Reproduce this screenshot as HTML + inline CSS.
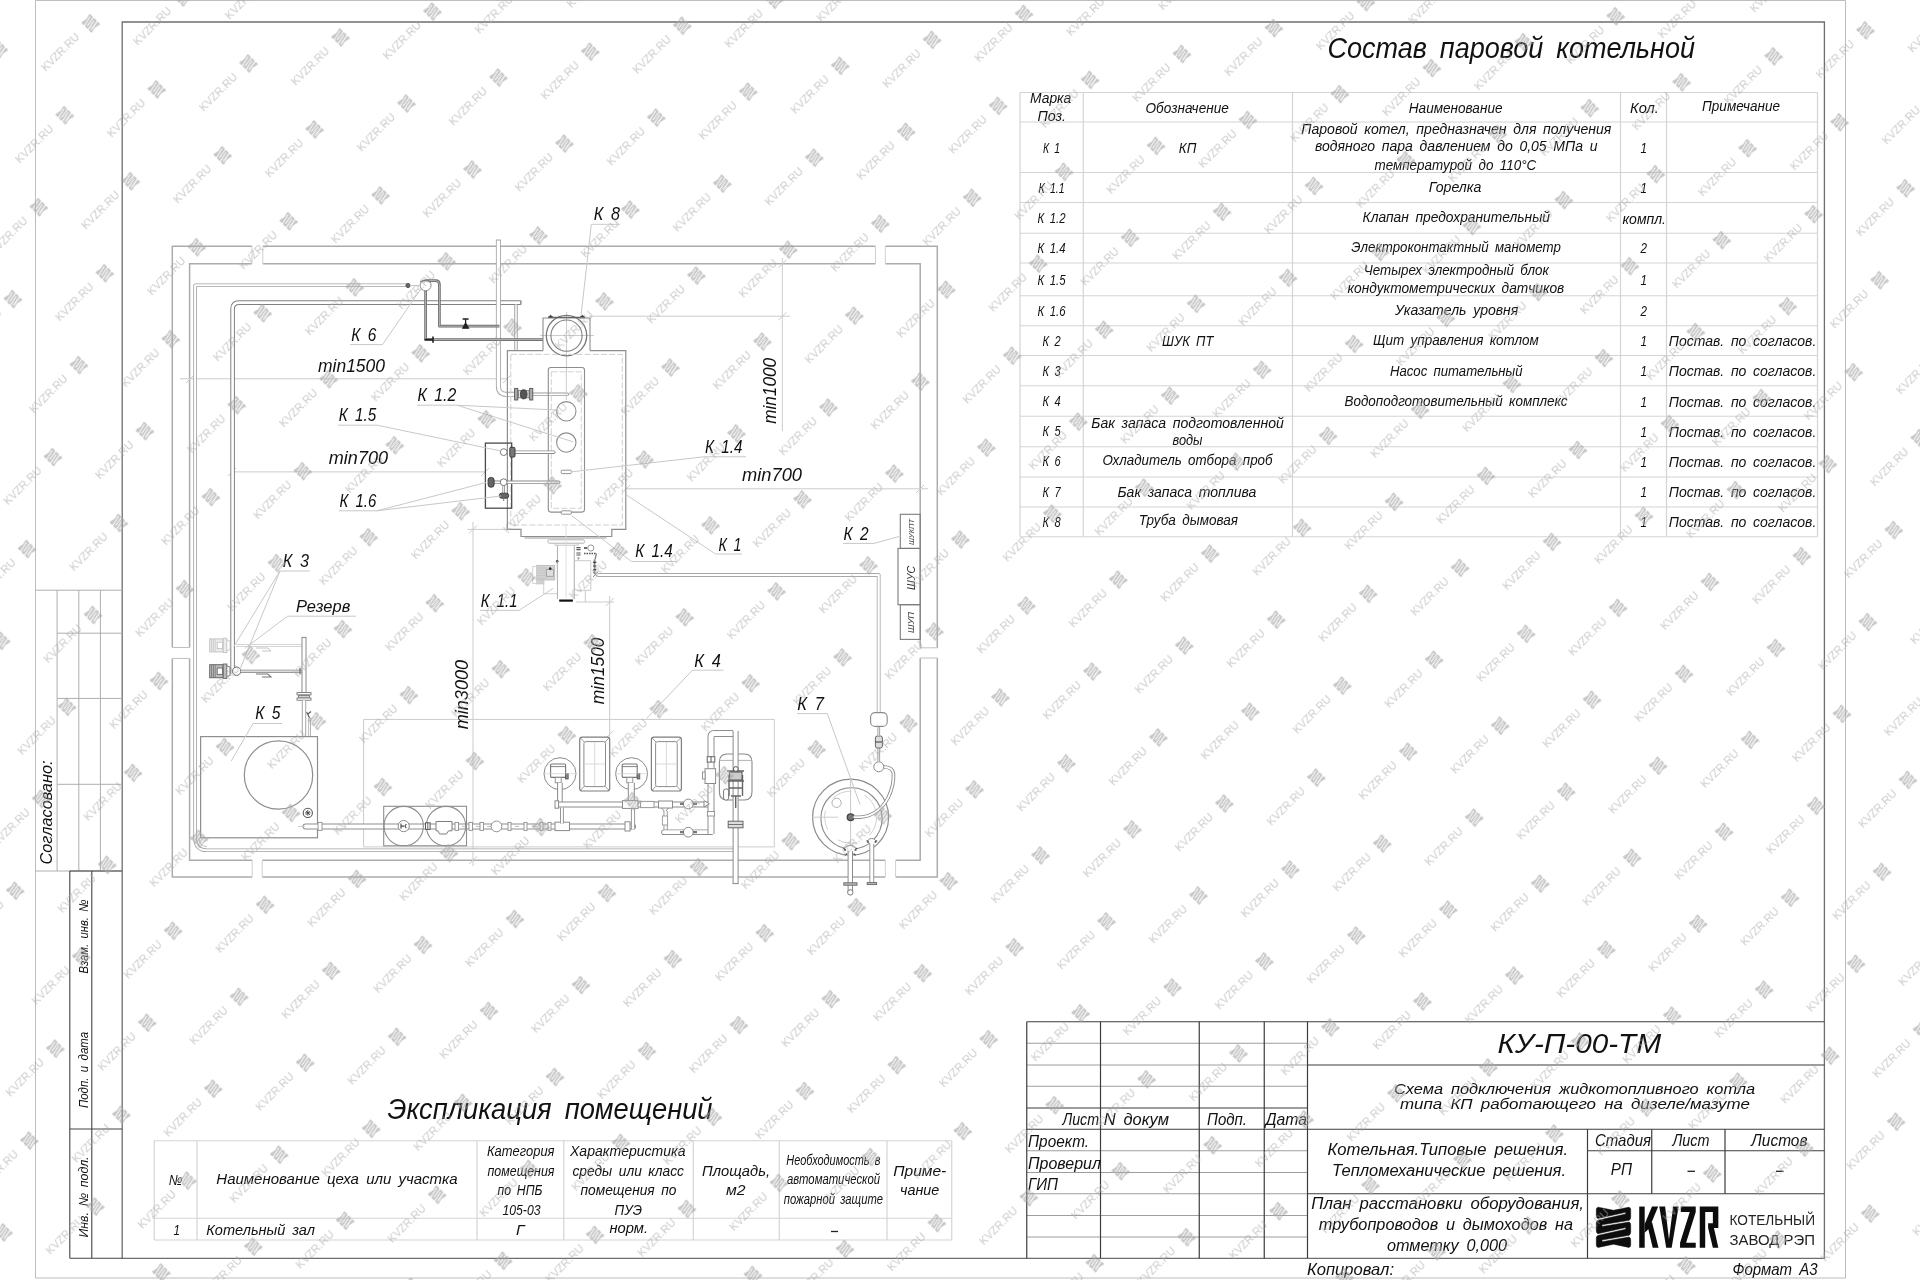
<!DOCTYPE html>
<html lang="ru"><head><meta charset="utf-8"><title>КУ-П-00-ТМ</title>
<style>html,body{margin:0;padding:0;background:#fff}svg{display:block;filter:grayscale(1)}text{font-family:"Liberation Sans", sans-serif;font-style:italic;word-spacing:0.2em}.n{font-style:normal;word-spacing:0}</style></head><body>
<svg width="1920" height="1280" viewBox="0 0 1920 1280">
<defs>
<pattern id="wm" patternUnits="userSpaceOnUse" width="166.667" height="93.333" patternTransform="translate(29.8,55.6) rotate(-45)">
<g transform="translate(-0.20,22.90)"><text class="n" x="0" y="0" font-size="11" fill="#a8a8a8" fill-opacity="0.6" textLength="48.5" lengthAdjust="spacingAndGlyphs">KVZR.RU</text><g transform="translate(59.8,-10.15) scale(0.362)"><path d="M2 0.6 L17.3 3.7 L32.6 0.6 Q34.5 0.8 34.5 3 L34.5 9.95 Q34.4 12.15 33.0 13.15 L5.8 17.60 L5.8 20.50 L33.0 16.05 Q34.4 16.65 34.5 19.05 L34.5 24.85 Q34.4 27.05 33.0 28.05 L5.8 32.85 L5.8 35.75 L33.0 30.95 Q34.4 31.55 34.5 33.95 L34.5 38.5 Q34.5 40.6 32.6 40.8 L17.3 37.6 L2 40.8 Q0.1 40.6 0.1 38.5 L0.1 32.20 Q0.2 30.20 1.6 29.40 L29.5 23.30 L29.5 20.40 L1.6 26.50 Q0.2 25.90 0.1 23.70 L0.1 17.10 Q0.2 15.10 1.6 14.30 L29.5 8.00 L29.5 5.10 L1.6 11.40 Q0.2 10.80 0.1 8.60 L0.1 3 Q0.1 0.8 2 0.6 Z" fill="#a8a8a8" fill-opacity="0.66"/></g></g>
<g transform="translate(166.47,22.90)"><text class="n" x="0" y="0" font-size="11" fill="#a8a8a8" fill-opacity="0.6" textLength="48.5" lengthAdjust="spacingAndGlyphs">KVZR.RU</text><g transform="translate(59.8,-10.15) scale(0.362)"><path d="M2 0.6 L17.3 3.7 L32.6 0.6 Q34.5 0.8 34.5 3 L34.5 9.95 Q34.4 12.15 33.0 13.15 L5.8 17.60 L5.8 20.50 L33.0 16.05 Q34.4 16.65 34.5 19.05 L34.5 24.85 Q34.4 27.05 33.0 28.05 L5.8 32.85 L5.8 35.75 L33.0 30.95 Q34.4 31.55 34.5 33.95 L34.5 38.5 Q34.5 40.6 32.6 40.8 L17.3 37.6 L2 40.8 Q0.1 40.6 0.1 38.5 L0.1 32.20 Q0.2 30.20 1.6 29.40 L29.5 23.30 L29.5 20.40 L1.6 26.50 Q0.2 25.90 0.1 23.70 L0.1 17.10 Q0.2 15.10 1.6 14.30 L29.5 8.00 L29.5 5.10 L1.6 11.40 Q0.2 10.80 0.1 8.60 L0.1 3 Q0.1 0.8 2 0.6 Z" fill="#a8a8a8" fill-opacity="0.66"/></g></g>
<g transform="translate(83.13,69.57)"><text class="n" x="0" y="0" font-size="11" fill="#a8a8a8" fill-opacity="0.6" textLength="48.5" lengthAdjust="spacingAndGlyphs">KVZR.RU</text><g transform="translate(59.8,-10.15) scale(0.362)"><path d="M2 0.6 L17.3 3.7 L32.6 0.6 Q34.5 0.8 34.5 3 L34.5 9.95 Q34.4 12.15 33.0 13.15 L5.8 17.60 L5.8 20.50 L33.0 16.05 Q34.4 16.65 34.5 19.05 L34.5 24.85 Q34.4 27.05 33.0 28.05 L5.8 32.85 L5.8 35.75 L33.0 30.95 Q34.4 31.55 34.5 33.95 L34.5 38.5 Q34.5 40.6 32.6 40.8 L17.3 37.6 L2 40.8 Q0.1 40.6 0.1 38.5 L0.1 32.20 Q0.2 30.20 1.6 29.40 L29.5 23.30 L29.5 20.40 L1.6 26.50 Q0.2 25.90 0.1 23.70 L0.1 17.10 Q0.2 15.10 1.6 14.30 L29.5 8.00 L29.5 5.10 L1.6 11.40 Q0.2 10.80 0.1 8.60 L0.1 3 Q0.1 0.8 2 0.6 Z" fill="#a8a8a8" fill-opacity="0.66"/></g></g>
</pattern>
</defs>
<rect x="0" y="0" width="1920" height="1280" fill="#fff"/>
<g opacity="0.999">
<g id="frames">
<path d="M35.5 0.5 H1845.5 V1278 H35.5 Z" stroke="#bdbdbd" stroke-width="1" fill="none"/>
<path d="M122.2 22 H1824.4 V1258.3 H122.2 Z" stroke="#6e6e6e" stroke-width="1.3" fill="none"/>
<path d="M35.5 590.2 H122.2 M35.5 871 H122.2" stroke="#aeaeae" stroke-width="1" fill="none"/>
<line x1="57.10" y1="590.20" x2="57.10" y2="871.00" stroke="#aeaeae" stroke-width="1"/>
<line x1="78.80" y1="590.20" x2="78.80" y2="871.00" stroke="#aeaeae" stroke-width="1"/>
<line x1="100.40" y1="590.20" x2="100.40" y2="871.00" stroke="#aeaeae" stroke-width="1"/>
<line x1="57.10" y1="633.20" x2="122.20" y2="633.20" stroke="#aeaeae" stroke-width="1"/>
<line x1="57.10" y1="698.40" x2="122.20" y2="698.40" stroke="#aeaeae" stroke-width="1"/>
<line x1="57.10" y1="784.30" x2="122.20" y2="784.30" stroke="#aeaeae" stroke-width="1"/>
<text transform="translate(52.0,864.5) rotate(-90)" font-size="16" fill="#111" textLength="104.0" lengthAdjust="spacingAndGlyphs">Согласовано:</text>
<path d="M69.8 871 V1258.3 M91.8 871 V1258.3 M69.8 871 H122.2 M69.8 1129 H122.2 M69.8 1258.3 H122.2" stroke="#444" stroke-width="1.1" fill="none"/>
<text transform="translate(88.0,973.5) rotate(-90)" font-size="13" fill="#111" textLength="74.0" lengthAdjust="spacingAndGlyphs">Взам. инв. №</text>
<text transform="translate(88.0,1108.0) rotate(-90)" font-size="13" fill="#111" textLength="76.0" lengthAdjust="spacingAndGlyphs">Подп. и дата</text>
<text transform="translate(88.0,1237.5) rotate(-90)" font-size="13" fill="#111" textLength="81.0" lengthAdjust="spacingAndGlyphs">Инв. № подл.</text>
</g>
<g id="tables">
<line x1="1020.00" y1="92.50" x2="1817.50" y2="92.50" stroke="#d4d4d4" stroke-width="1.2"/>
<line x1="1020.00" y1="122.00" x2="1817.50" y2="122.00" stroke="#d4d4d4" stroke-width="1.2"/>
<line x1="1020.00" y1="172.50" x2="1817.50" y2="172.50" stroke="#d4d4d4" stroke-width="1.2"/>
<line x1="1020.00" y1="202.50" x2="1817.50" y2="202.50" stroke="#d4d4d4" stroke-width="1.2"/>
<line x1="1020.00" y1="233.25" x2="1817.50" y2="233.25" stroke="#d4d4d4" stroke-width="1.2"/>
<line x1="1020.00" y1="263.00" x2="1817.50" y2="263.00" stroke="#d4d4d4" stroke-width="1.2"/>
<line x1="1020.00" y1="295.75" x2="1817.50" y2="295.75" stroke="#d4d4d4" stroke-width="1.2"/>
<line x1="1020.00" y1="325.75" x2="1817.50" y2="325.75" stroke="#d4d4d4" stroke-width="1.2"/>
<line x1="1020.00" y1="355.50" x2="1817.50" y2="355.50" stroke="#d4d4d4" stroke-width="1.2"/>
<line x1="1020.00" y1="385.75" x2="1817.50" y2="385.75" stroke="#d4d4d4" stroke-width="1.2"/>
<line x1="1020.00" y1="416.25" x2="1817.50" y2="416.25" stroke="#d4d4d4" stroke-width="1.2"/>
<line x1="1020.00" y1="446.75" x2="1817.50" y2="446.75" stroke="#d4d4d4" stroke-width="1.2"/>
<line x1="1020.00" y1="477.00" x2="1817.50" y2="477.00" stroke="#d4d4d4" stroke-width="1.2"/>
<line x1="1020.00" y1="507.00" x2="1817.50" y2="507.00" stroke="#d4d4d4" stroke-width="1.2"/>
<line x1="1020.00" y1="536.75" x2="1817.50" y2="536.75" stroke="#d4d4d4" stroke-width="1.2"/>
<line x1="1020.00" y1="92.50" x2="1020.00" y2="536.75" stroke="#d4d4d4" stroke-width="1.2"/>
<line x1="1083.25" y1="92.50" x2="1083.25" y2="536.75" stroke="#d4d4d4" stroke-width="1.2"/>
<line x1="1292.50" y1="92.50" x2="1292.50" y2="536.75" stroke="#d4d4d4" stroke-width="1.2"/>
<line x1="1620.50" y1="92.50" x2="1620.50" y2="536.75" stroke="#d4d4d4" stroke-width="1.2"/>
<line x1="1666.50" y1="92.50" x2="1666.50" y2="536.75" stroke="#d4d4d4" stroke-width="1.2"/>
<line x1="1817.50" y1="92.50" x2="1817.50" y2="536.75" stroke="#d4d4d4" stroke-width="1.2"/>
<text x="1327.5" y="57.5" font-size="29" text-anchor="start" fill="#111" textLength="367.5" lengthAdjust="spacingAndGlyphs">Состав паровой котельной</text>
<text x="1030.0" y="103.2" font-size="14.5" text-anchor="start" fill="#111" textLength="41.3" lengthAdjust="spacingAndGlyphs">Марка</text>
<text x="1037.5" y="121.2" font-size="14.5" text-anchor="start" fill="#111" textLength="28.5" lengthAdjust="spacingAndGlyphs">Поз.</text>
<text x="1145.5" y="112.5" font-size="14.5" text-anchor="start" fill="#111" textLength="83.3" lengthAdjust="spacingAndGlyphs">Обозначение</text>
<text x="1408.8" y="112.5" font-size="14.5" text-anchor="start" fill="#111" textLength="93.7" lengthAdjust="spacingAndGlyphs">Наименование</text>
<text x="1630.0" y="112.5" font-size="14.5" text-anchor="start" fill="#111" textLength="28.8" lengthAdjust="spacingAndGlyphs">Кол.</text>
<text x="1702.0" y="110.5" font-size="14.5" text-anchor="start" fill="#111" textLength="78.0" lengthAdjust="spacingAndGlyphs">Примечание</text>
<text x="1043.1" y="152.5" font-size="14.5" text-anchor="start" fill="#111" textLength="17.0" lengthAdjust="spacingAndGlyphs">К 1</text>
<text x="1038.6" y="192.5" font-size="14.5" text-anchor="start" fill="#111" textLength="26.0" lengthAdjust="spacingAndGlyphs">К 1.1</text>
<text x="1037.6" y="223.0" font-size="14.5" text-anchor="start" fill="#111" textLength="28.0" lengthAdjust="spacingAndGlyphs">К 1.2</text>
<text x="1037.6" y="253.3" font-size="14.5" text-anchor="start" fill="#111" textLength="28.0" lengthAdjust="spacingAndGlyphs">К 1.4</text>
<text x="1037.6" y="284.5" font-size="14.5" text-anchor="start" fill="#111" textLength="28.0" lengthAdjust="spacingAndGlyphs">К 1.5</text>
<text x="1037.6" y="315.7" font-size="14.5" text-anchor="start" fill="#111" textLength="28.0" lengthAdjust="spacingAndGlyphs">К 1.6</text>
<text x="1042.6" y="345.8" font-size="14.5" text-anchor="start" fill="#111" textLength="18.0" lengthAdjust="spacingAndGlyphs">К 2</text>
<text x="1042.6" y="376.3" font-size="14.5" text-anchor="start" fill="#111" textLength="18.0" lengthAdjust="spacingAndGlyphs">К 3</text>
<text x="1042.6" y="406.3" font-size="14.5" text-anchor="start" fill="#111" textLength="18.0" lengthAdjust="spacingAndGlyphs">К 4</text>
<text x="1042.6" y="436.3" font-size="14.5" text-anchor="start" fill="#111" textLength="18.0" lengthAdjust="spacingAndGlyphs">К 5</text>
<text x="1042.6" y="466.3" font-size="14.5" text-anchor="start" fill="#111" textLength="18.0" lengthAdjust="spacingAndGlyphs">К 6</text>
<text x="1042.6" y="496.8" font-size="14.5" text-anchor="start" fill="#111" textLength="18.0" lengthAdjust="spacingAndGlyphs">К 7</text>
<text x="1042.6" y="526.8" font-size="14.5" text-anchor="start" fill="#111" textLength="18.0" lengthAdjust="spacingAndGlyphs">К 8</text>
<text x="1178.8" y="152.5" font-size="14.5" text-anchor="start" fill="#111" textLength="17.5" lengthAdjust="spacingAndGlyphs">КП</text>
<text x="1162.0" y="345.8" font-size="14.5" text-anchor="start" fill="#111" textLength="51.3" lengthAdjust="spacingAndGlyphs">ШУК ПТ</text>
<text x="1091.3" y="428.0" font-size="14.5" text-anchor="start" fill="#111" textLength="192.5" lengthAdjust="spacingAndGlyphs">Бак запаса подготовленной</text>
<text x="1172.5" y="445.0" font-size="14.5" text-anchor="start" fill="#111" textLength="30.0" lengthAdjust="spacingAndGlyphs">воды</text>
<text x="1102.5" y="465.0" font-size="14.5" text-anchor="start" fill="#111" textLength="170.0" lengthAdjust="spacingAndGlyphs">Охладитель отбора проб</text>
<text x="1117.5" y="496.8" font-size="14.5" text-anchor="start" fill="#111" textLength="138.8" lengthAdjust="spacingAndGlyphs">Бак запаса топлива</text>
<text x="1138.8" y="525.0" font-size="14.5" text-anchor="start" fill="#111" textLength="99.2" lengthAdjust="spacingAndGlyphs">Труба дымовая</text>
<text x="1301.3" y="133.8" font-size="14.5" text-anchor="start" fill="#111" textLength="310.0" lengthAdjust="spacingAndGlyphs">Паровой котел, предназначен для получения</text>
<text x="1315.0" y="151.3" font-size="14.5" text-anchor="start" fill="#111" textLength="282.5" lengthAdjust="spacingAndGlyphs">водяного пара давлением до 0,05 МПа и</text>
<text x="1374.5" y="169.5" font-size="14.5" text-anchor="start" fill="#111" textLength="161.8" lengthAdjust="spacingAndGlyphs">температурой до 110°С</text>
<text x="1428.8" y="192.0" font-size="14.5" text-anchor="start" fill="#111" textLength="52.5" lengthAdjust="spacingAndGlyphs">Горелка</text>
<text x="1362.5" y="222.0" font-size="14.5" text-anchor="start" fill="#111" textLength="187.5" lengthAdjust="spacingAndGlyphs">Клапан предохранительный</text>
<text x="1351.3" y="252.0" font-size="14.5" text-anchor="start" fill="#111" textLength="209.5" lengthAdjust="spacingAndGlyphs">Электроконтактный манометр</text>
<text x="1363.8" y="274.5" font-size="14.5" text-anchor="start" fill="#111" textLength="185.0" lengthAdjust="spacingAndGlyphs">Четырех электродный блок</text>
<text x="1347.5" y="292.5" font-size="14.5" text-anchor="start" fill="#111" textLength="216.8" lengthAdjust="spacingAndGlyphs">кондуктометрических датчиков</text>
<text x="1395.0" y="315.0" font-size="14.5" text-anchor="start" fill="#111" textLength="123.3" lengthAdjust="spacingAndGlyphs">Указатель уровня</text>
<text x="1373.0" y="345.0" font-size="14.5" text-anchor="start" fill="#111" textLength="165.8" lengthAdjust="spacingAndGlyphs">Щит управления котлом</text>
<text x="1390.0" y="376.3" font-size="14.5" text-anchor="start" fill="#111" textLength="132.5" lengthAdjust="spacingAndGlyphs">Насос питательный</text>
<text x="1344.5" y="406.3" font-size="14.5" text-anchor="start" fill="#111" textLength="223.0" lengthAdjust="spacingAndGlyphs">Водоподготовительный комплекс</text>
<text x="1640.5" y="152.5" font-size="14.5" text-anchor="start" fill="#111" textLength="6.5" lengthAdjust="spacingAndGlyphs">1</text>
<text x="1640.5" y="192.5" font-size="14.5" text-anchor="start" fill="#111" textLength="6.5" lengthAdjust="spacingAndGlyphs">1</text>
<text x="1640.5" y="253.3" font-size="14.5" text-anchor="start" fill="#111" textLength="6.5" lengthAdjust="spacingAndGlyphs">2</text>
<text x="1640.5" y="284.5" font-size="14.5" text-anchor="start" fill="#111" textLength="6.5" lengthAdjust="spacingAndGlyphs">1</text>
<text x="1640.5" y="315.7" font-size="14.5" text-anchor="start" fill="#111" textLength="6.5" lengthAdjust="spacingAndGlyphs">2</text>
<text x="1640.5" y="346.2" font-size="14.5" text-anchor="start" fill="#111" textLength="6.5" lengthAdjust="spacingAndGlyphs">1</text>
<text x="1640.5" y="376.3" font-size="14.5" text-anchor="start" fill="#111" textLength="6.5" lengthAdjust="spacingAndGlyphs">1</text>
<text x="1640.5" y="406.5" font-size="14.5" text-anchor="start" fill="#111" textLength="6.5" lengthAdjust="spacingAndGlyphs">1</text>
<text x="1640.5" y="437.0" font-size="14.5" text-anchor="start" fill="#111" textLength="6.5" lengthAdjust="spacingAndGlyphs">1</text>
<text x="1640.5" y="467.0" font-size="14.5" text-anchor="start" fill="#111" textLength="6.5" lengthAdjust="spacingAndGlyphs">1</text>
<text x="1640.5" y="496.8" font-size="14.5" text-anchor="start" fill="#111" textLength="6.5" lengthAdjust="spacingAndGlyphs">1</text>
<text x="1640.5" y="527.0" font-size="14.5" text-anchor="start" fill="#111" textLength="6.5" lengthAdjust="spacingAndGlyphs">1</text>
<text x="1622.5" y="223.8" font-size="14.5" text-anchor="start" fill="#111" textLength="43.5" lengthAdjust="spacingAndGlyphs">компл.</text>
<text x="1668.8" y="346.2" font-size="14.5" text-anchor="start" fill="#111" textLength="147.5" lengthAdjust="spacingAndGlyphs">Постав. по согласов.</text>
<text x="1668.8" y="376.3" font-size="14.5" text-anchor="start" fill="#111" textLength="147.5" lengthAdjust="spacingAndGlyphs">Постав. по согласов.</text>
<text x="1668.8" y="406.5" font-size="14.5" text-anchor="start" fill="#111" textLength="147.5" lengthAdjust="spacingAndGlyphs">Постав. по согласов.</text>
<text x="1668.8" y="437.0" font-size="14.5" text-anchor="start" fill="#111" textLength="147.5" lengthAdjust="spacingAndGlyphs">Постав. по согласов.</text>
<text x="1668.8" y="467.0" font-size="14.5" text-anchor="start" fill="#111" textLength="147.5" lengthAdjust="spacingAndGlyphs">Постав. по согласов.</text>
<text x="1668.8" y="496.8" font-size="14.5" text-anchor="start" fill="#111" textLength="147.5" lengthAdjust="spacingAndGlyphs">Постав. по согласов.</text>
<text x="1668.8" y="527.0" font-size="14.5" text-anchor="start" fill="#111" textLength="147.5" lengthAdjust="spacingAndGlyphs">Постав. по согласов.</text>
<line x1="154.25" y1="1140.75" x2="951.75" y2="1140.75" stroke="#d4d4d4" stroke-width="1.2"/>
<line x1="154.25" y1="1218.25" x2="951.75" y2="1218.25" stroke="#d4d4d4" stroke-width="1.2"/>
<line x1="154.25" y1="1240.00" x2="951.75" y2="1240.00" stroke="#d4d4d4" stroke-width="1.2"/>
<line x1="154.25" y1="1140.75" x2="154.25" y2="1240.00" stroke="#d4d4d4" stroke-width="1.2"/>
<line x1="197.00" y1="1140.75" x2="197.00" y2="1240.00" stroke="#d4d4d4" stroke-width="1.2"/>
<line x1="477.00" y1="1140.75" x2="477.00" y2="1240.00" stroke="#d4d4d4" stroke-width="1.2"/>
<line x1="563.75" y1="1140.75" x2="563.75" y2="1240.00" stroke="#d4d4d4" stroke-width="1.2"/>
<line x1="693.25" y1="1140.75" x2="693.25" y2="1240.00" stroke="#d4d4d4" stroke-width="1.2"/>
<line x1="779.25" y1="1140.75" x2="779.25" y2="1240.00" stroke="#d4d4d4" stroke-width="1.2"/>
<line x1="887.00" y1="1140.75" x2="887.00" y2="1240.00" stroke="#d4d4d4" stroke-width="1.2"/>
<line x1="951.75" y1="1140.75" x2="951.75" y2="1240.00" stroke="#d4d4d4" stroke-width="1.2"/>
<text x="387.5" y="1118.8" font-size="30" text-anchor="start" fill="#111" textLength="325.0" lengthAdjust="spacingAndGlyphs">Экспликация помещений</text>
<text x="168.8" y="1185.0" font-size="14.5" text-anchor="start" fill="#111" textLength="13.7" lengthAdjust="spacingAndGlyphs">№</text>
<text x="216.3" y="1183.8" font-size="14.5" text-anchor="start" fill="#111" textLength="241.2" lengthAdjust="spacingAndGlyphs">Наименование цеха или участка</text>
<text x="487.0" y="1156.3" font-size="14.5" text-anchor="start" fill="#111" textLength="67.5" lengthAdjust="spacingAndGlyphs">Категория</text>
<text x="487.5" y="1176.3" font-size="14.5" text-anchor="start" fill="#111" textLength="67.0" lengthAdjust="spacingAndGlyphs">помещения</text>
<text x="497.5" y="1195.0" font-size="14.5" text-anchor="start" fill="#111" textLength="45.0" lengthAdjust="spacingAndGlyphs">по НПБ</text>
<text x="502.5" y="1214.5" font-size="14.5" text-anchor="start" fill="#111" textLength="38.0" lengthAdjust="spacingAndGlyphs">105-03</text>
<text x="570.0" y="1156.3" font-size="14.5" text-anchor="start" fill="#111" textLength="115.5" lengthAdjust="spacingAndGlyphs">Характеристика</text>
<text x="572.5" y="1176.3" font-size="14.5" text-anchor="start" fill="#111" textLength="111.5" lengthAdjust="spacingAndGlyphs">среды или класс</text>
<text x="580.5" y="1195.0" font-size="14.5" text-anchor="start" fill="#111" textLength="96.0" lengthAdjust="spacingAndGlyphs">помещения по</text>
<text x="614.5" y="1214.5" font-size="14.5" text-anchor="start" fill="#111" textLength="27.5" lengthAdjust="spacingAndGlyphs">ПУЭ</text>
<text x="702.0" y="1176.3" font-size="14.5" text-anchor="start" fill="#111" textLength="68.0" lengthAdjust="spacingAndGlyphs">Площадь,</text>
<text x="726.0" y="1195.0" font-size="14.5" text-anchor="start" fill="#111" textLength="19.5" lengthAdjust="spacingAndGlyphs">м2</text>
<text x="786.3" y="1164.5" font-size="14.5" text-anchor="start" fill="#111" textLength="94.2" lengthAdjust="spacingAndGlyphs">Необходимость в</text>
<text x="787.0" y="1183.8" font-size="14.5" text-anchor="start" fill="#111" textLength="93.0" lengthAdjust="spacingAndGlyphs">автоматической</text>
<text x="783.8" y="1203.8" font-size="14.5" text-anchor="start" fill="#111" textLength="99.2" lengthAdjust="spacingAndGlyphs">пожарной защите</text>
<text x="893.3" y="1176.3" font-size="14.5" text-anchor="start" fill="#111" textLength="53.0" lengthAdjust="spacingAndGlyphs">Приме-</text>
<text x="900.0" y="1195.0" font-size="14.5" text-anchor="start" fill="#111" textLength="39.3" lengthAdjust="spacingAndGlyphs">чание</text>
<text x="173.5" y="1235.0" font-size="14.5" text-anchor="start" fill="#111" textLength="6.5" lengthAdjust="spacingAndGlyphs">1</text>
<text x="206.3" y="1235.0" font-size="14.5" text-anchor="start" fill="#111" textLength="108.7" lengthAdjust="spacingAndGlyphs">Котельный зал</text>
<text x="516.0" y="1235.0" font-size="14.5" text-anchor="start" fill="#111" textLength="8.5" lengthAdjust="spacingAndGlyphs">Г</text>
<text x="609.5" y="1233.0" font-size="14.5" text-anchor="start" fill="#111" textLength="38.5" lengthAdjust="spacingAndGlyphs">норм.</text>
<line x1="831.00" y1="1231.50" x2="838.00" y2="1231.50" stroke="#222" stroke-width="1.3"/>
<line x1="1026.75" y1="1043.25" x2="1307.50" y2="1043.25" stroke="#9e9e9e" stroke-width="1"/>
<line x1="1026.75" y1="1065.00" x2="1307.50" y2="1065.00" stroke="#9e9e9e" stroke-width="1"/>
<line x1="1026.75" y1="1086.25" x2="1307.50" y2="1086.25" stroke="#9e9e9e" stroke-width="1"/>
<line x1="1026.75" y1="1108.00" x2="1307.50" y2="1108.00" stroke="#3c3c3c" stroke-width="1.2"/>
<line x1="1026.75" y1="1129.25" x2="1307.50" y2="1129.25" stroke="#3c3c3c" stroke-width="1.2"/>
<line x1="1026.75" y1="1150.75" x2="1307.50" y2="1150.75" stroke="#9e9e9e" stroke-width="1"/>
<line x1="1026.75" y1="1172.50" x2="1307.50" y2="1172.50" stroke="#9e9e9e" stroke-width="1"/>
<line x1="1026.75" y1="1193.75" x2="1307.50" y2="1193.75" stroke="#9e9e9e" stroke-width="1"/>
<line x1="1026.75" y1="1215.50" x2="1307.50" y2="1215.50" stroke="#9e9e9e" stroke-width="1"/>
<line x1="1026.75" y1="1237.00" x2="1307.50" y2="1237.00" stroke="#9e9e9e" stroke-width="1"/>
<line x1="1026.75" y1="1021.75" x2="1026.75" y2="1258.30" stroke="#3c3c3c" stroke-width="1.2"/>
<line x1="1100.50" y1="1021.75" x2="1100.50" y2="1258.30" stroke="#3c3c3c" stroke-width="1.2"/>
<line x1="1199.25" y1="1021.75" x2="1199.25" y2="1258.30" stroke="#3c3c3c" stroke-width="1.2"/>
<line x1="1264.25" y1="1021.75" x2="1264.25" y2="1258.30" stroke="#3c3c3c" stroke-width="1.2"/>
<line x1="1307.50" y1="1021.75" x2="1307.50" y2="1258.30" stroke="#3c3c3c" stroke-width="1.2"/>
<line x1="1026.75" y1="1021.75" x2="1824.40" y2="1021.75" stroke="#3c3c3c" stroke-width="1.2"/>
<line x1="1307.50" y1="1065.00" x2="1824.40" y2="1065.00" stroke="#3c3c3c" stroke-width="1.2"/>
<line x1="1307.50" y1="1129.25" x2="1824.40" y2="1129.25" stroke="#3c3c3c" stroke-width="1.2"/>
<line x1="1307.50" y1="1193.75" x2="1824.40" y2="1193.75" stroke="#3c3c3c" stroke-width="1.2"/>
<line x1="1587.50" y1="1150.75" x2="1824.40" y2="1150.75" stroke="#3c3c3c" stroke-width="1.2"/>
<line x1="1587.50" y1="1129.25" x2="1587.50" y2="1258.30" stroke="#3c3c3c" stroke-width="1.2"/>
<line x1="1651.75" y1="1129.25" x2="1651.75" y2="1193.75" stroke="#3c3c3c" stroke-width="1.2"/>
<line x1="1725.00" y1="1129.25" x2="1725.00" y2="1193.75" stroke="#3c3c3c" stroke-width="1.2"/>
<text x="1062.5" y="1125.0" font-size="17" text-anchor="start" fill="#111" textLength="36.5" lengthAdjust="spacingAndGlyphs">Лист</text>
<text x="1103.8" y="1125.0" font-size="17" text-anchor="start" fill="#111" textLength="65.2" lengthAdjust="spacingAndGlyphs">N докум</text>
<text x="1207.0" y="1125.0" font-size="17" text-anchor="start" fill="#111" textLength="40.0" lengthAdjust="spacingAndGlyphs">Подп.</text>
<text x="1265.5" y="1125.0" font-size="17" text-anchor="start" fill="#111" textLength="41.5" lengthAdjust="spacingAndGlyphs">Дата</text>
<text x="1028.0" y="1147.0" font-size="17" text-anchor="start" fill="#111" textLength="61.0" lengthAdjust="spacingAndGlyphs">Проект.</text>
<text x="1028.0" y="1168.8" font-size="17" text-anchor="start" fill="#111" textLength="73.0" lengthAdjust="spacingAndGlyphs">Проверил</text>
<text x="1028.0" y="1189.5" font-size="17" text-anchor="start" fill="#111" textLength="30.0" lengthAdjust="spacingAndGlyphs">ГИП</text>
<text x="1307.0" y="1275.0" font-size="17" text-anchor="start" fill="#111" textLength="87.0" lengthAdjust="spacingAndGlyphs">Копировал:</text>
<text x="1732.5" y="1275.0" font-size="17" text-anchor="start" fill="#111" textLength="85.0" lengthAdjust="spacingAndGlyphs">Формат А3</text>
<text x="1497.5" y="1053.3" font-size="28.5" text-anchor="start" fill="#111" textLength="163.8" lengthAdjust="spacingAndGlyphs">КУ-П-00-ТМ</text>
<text x="1394.0" y="1093.8" font-size="15.5" text-anchor="start" fill="#111" textLength="361.0" lengthAdjust="spacingAndGlyphs">Схема подключения жидкотопливного котла</text>
<text x="1400.0" y="1108.8" font-size="15.5" text-anchor="start" fill="#111" textLength="350.0" lengthAdjust="spacingAndGlyphs">типа КП работающего на дизеле/мазуте</text>
<text x="1327.5" y="1154.5" font-size="16" text-anchor="start" fill="#111" textLength="240.5" lengthAdjust="spacingAndGlyphs">Котельная.Типовые решения.</text>
<text x="1332.0" y="1176.3" font-size="16" text-anchor="start" fill="#111" textLength="234.0" lengthAdjust="spacingAndGlyphs">Тепломеханические решения.</text>
<text x="1311.3" y="1208.8" font-size="16" text-anchor="start" fill="#111" textLength="272.7" lengthAdjust="spacingAndGlyphs">План расстановки оборудования,</text>
<text x="1318.8" y="1230.0" font-size="16" text-anchor="start" fill="#111" textLength="254.2" lengthAdjust="spacingAndGlyphs">трубопроводов и дымоходов на</text>
<text x="1387.0" y="1250.8" font-size="16" text-anchor="start" fill="#111" textLength="120.0" lengthAdjust="spacingAndGlyphs">отметку 0,000</text>
<text x="1595.0" y="1145.8" font-size="17" text-anchor="start" fill="#111" textLength="56.0" lengthAdjust="spacingAndGlyphs">Стадия</text>
<text x="1672.5" y="1145.8" font-size="17" text-anchor="start" fill="#111" textLength="37.0" lengthAdjust="spacingAndGlyphs">Лист</text>
<text x="1751.3" y="1145.8" font-size="17" text-anchor="start" fill="#111" textLength="56.2" lengthAdjust="spacingAndGlyphs">Листов</text>
<text x="1610.8" y="1175.0" font-size="17" text-anchor="start" fill="#111" textLength="21.2" lengthAdjust="spacingAndGlyphs">РП</text>
<line x1="1687.50" y1="1171.30" x2="1695.00" y2="1171.30" stroke="#222" stroke-width="1.3"/>
<line x1="1776.00" y1="1171.30" x2="1783.50" y2="1171.30" stroke="#222" stroke-width="1.3"/>
<g transform="translate(1596.2,1206.6)"><path d="M2 0.6 L17.3 3.7 L32.6 0.6 Q34.5 0.8 34.5 3 L34.5 10.55 Q34.4 12.75 33.0 13.75 L5.8 18.20 L5.8 19.90 L33.0 15.45 Q34.4 16.05 34.5 18.45 L34.5 25.45 Q34.4 27.65 33.0 28.65 L5.8 33.45 L5.8 35.15 L33.0 30.35 Q34.4 30.95 34.5 33.35 L34.5 38.5 Q34.5 40.6 32.6 40.8 L17.3 37.6 L2 40.8 Q0.1 40.6 0.1 38.5 L0.1 31.60 Q0.2 29.60 1.6 28.80 L29.5 22.70 L29.5 21.00 L1.6 27.10 Q0.2 26.50 0.1 24.30 L0.1 16.50 Q0.2 14.50 1.6 13.70 L29.5 7.40 L29.5 5.70 L1.6 12.00 Q0.2 11.40 0.1 9.20 L0.1 3 Q0.1 0.8 2 0.6 Z" fill="#0d0d0d" stroke="#0d0d0d" stroke-width="0.5" stroke-linejoin="round"/></g>
<path d="M1639.22 1206.56 L1644.69 1206.56 L1644.69 1247.76 L1639.22 1247.76 Z" fill="#0d0d0d"/>
<path d="M1644.69 1224.06 L1651.98 1206.56 L1658.18 1206.56 L1649.06 1228.44 L1644.69 1232.81 Z" fill="#0d0d0d"/>
<path d="M1647.61 1226.25 L1651.98 1221.88 L1658.54 1247.76 L1652.71 1247.76 Z" fill="#0d0d0d"/>
<path d="M1659.27 1206.56 L1665.11 1206.56 L1668.97 1239.38 L1673.13 1206.56 L1678.60 1206.56 L1671.67 1247.76 L1666.20 1247.76 Z" fill="#0d0d0d"/>
<path d="M1680.78 1206.56 L1695.73 1206.56 L1695.73 1212.03 L1686.11 1242.66 L1695.73 1242.66 L1695.73 1247.76 L1680.05 1247.76 L1680.05 1242.66 L1689.75 1212.03 L1680.78 1212.03 Z" fill="#0d0d0d"/>
<path d="M1699.74 1206.56 L1718.34 1206.56 L1718.34 1228.07 L1713.96 1228.07 L1718.34 1247.76 L1712.87 1247.76 L1708.13 1228.07 L1708.13 1223.33 L1712.87 1223.33 L1712.87 1212.03 L1705.21 1212.03 L1705.21 1247.76 L1699.74 1247.76 Z" fill="#0d0d0d"/>
<text class="n" x="1729.5" y="1225" font-size="15" fill="#222" textLength="85.5" lengthAdjust="spacingAndGlyphs">КОТЕЛЬНЫЙ</text>
<text class="n" x="1729.5" y="1245" font-size="15" fill="#222" textLength="85.5" lengthAdjust="spacingAndGlyphs">ЗАВОД РЭП</text>
</g>
<g id="plan">
<path d="M252 246.3 H172.3 V647.5 M172.3 658.4 V877.0 H252.2 M262.2 877.0 H885.3 M895.6 877.0 H937.3 V658 M937.3 647.8 V246.3 H885.3 M875.5 246.3 H262.8" stroke="#acacac" stroke-width="1.5" fill="none"/>
<path d="M252 263.8 H189.6 V647.5 M189.6 658.4 V860.2 H252.2 M262.2 860.2 H885.3 M895.6 860.2 H920.2 V658 M920.2 647.8 V263.8 H885.3 M875.5 263.8 H262.8" stroke="#acacac" stroke-width="1.5" fill="none"/>
<line x1="252.00" y1="246.30" x2="252.00" y2="263.80" stroke="#d0d0d0" stroke-width="1"/>
<line x1="262.80" y1="246.30" x2="262.80" y2="263.80" stroke="#d0d0d0" stroke-width="1"/>
<line x1="875.50" y1="246.30" x2="875.50" y2="263.80" stroke="#d0d0d0" stroke-width="1"/>
<line x1="885.30" y1="246.30" x2="885.30" y2="263.80" stroke="#d0d0d0" stroke-width="1"/>
<line x1="252.20" y1="860.20" x2="252.20" y2="877.00" stroke="#d0d0d0" stroke-width="1"/>
<line x1="262.20" y1="860.20" x2="262.20" y2="877.00" stroke="#d0d0d0" stroke-width="1"/>
<line x1="885.30" y1="860.20" x2="885.30" y2="877.00" stroke="#d0d0d0" stroke-width="1"/>
<line x1="895.60" y1="860.20" x2="895.60" y2="877.00" stroke="#d0d0d0" stroke-width="1"/>
<line x1="172.30" y1="647.50" x2="189.60" y2="647.50" stroke="#c0c0c0" stroke-width="1"/>
<line x1="172.30" y1="658.40" x2="189.60" y2="658.40" stroke="#c0c0c0" stroke-width="1"/>
<line x1="920.20" y1="647.80" x2="937.30" y2="647.80" stroke="#c0c0c0" stroke-width="1"/>
<line x1="920.20" y1="658.00" x2="937.30" y2="658.00" stroke="#c0c0c0" stroke-width="1"/>
<line x1="180.00" y1="378.80" x2="507.00" y2="378.80" stroke="#cbcbcb" stroke-width="1"/>
<line x1="186.00" y1="383.00" x2="194.00" y2="375.00" stroke="#cbcbcb" stroke-width="1"/>
<line x1="503.00" y1="383.00" x2="511.00" y2="375.00" stroke="#cbcbcb" stroke-width="1"/>
<line x1="232.00" y1="471.90" x2="485.00" y2="471.90" stroke="#cbcbcb" stroke-width="1"/>
<line x1="228.00" y1="476.00" x2="236.00" y2="468.00" stroke="#cbcbcb" stroke-width="1"/>
<line x1="481.00" y1="476.00" x2="489.00" y2="468.00" stroke="#cbcbcb" stroke-width="1"/>
<line x1="589.00" y1="316.20" x2="790.00" y2="316.20" stroke="#cbcbcb" stroke-width="1"/>
<line x1="782.30" y1="258.00" x2="782.30" y2="431.00" stroke="#cbcbcb" stroke-width="1"/>
<line x1="778.50" y1="320.20" x2="786.50" y2="312.20" stroke="#cbcbcb" stroke-width="1"/>
<line x1="778.50" y1="267.80" x2="786.50" y2="259.80" stroke="#cbcbcb" stroke-width="1"/>
<line x1="626.00" y1="488.80" x2="928.00" y2="488.80" stroke="#cbcbcb" stroke-width="1"/>
<line x1="916.00" y1="493.00" x2="924.00" y2="485.00" stroke="#cbcbcb" stroke-width="1"/>
<line x1="622.00" y1="493.00" x2="630.00" y2="485.00" stroke="#cbcbcb" stroke-width="1"/>
<line x1="467.50" y1="529.40" x2="507.00" y2="529.40" stroke="#cbcbcb" stroke-width="1"/>
<line x1="473.00" y1="522.00" x2="473.00" y2="866.00" stroke="#cbcbcb" stroke-width="1"/>
<line x1="469.00" y1="533.40" x2="477.00" y2="525.40" stroke="#cbcbcb" stroke-width="1"/>
<line x1="469.00" y1="864.20" x2="477.00" y2="856.20" stroke="#cbcbcb" stroke-width="1"/>
<line x1="576.00" y1="602.00" x2="614.00" y2="602.00" stroke="#cbcbcb" stroke-width="1"/>
<line x1="609.70" y1="596.00" x2="609.70" y2="737.00" stroke="#cbcbcb" stroke-width="1"/>
<line x1="605.70" y1="606.00" x2="613.70" y2="598.00" stroke="#cbcbcb" stroke-width="1"/>
<line x1="605.70" y1="738.40" x2="613.70" y2="730.40" stroke="#cbcbcb" stroke-width="1"/>
<path d="M363.6 719.4 H774.3 V846.9 H363.6 Z" stroke="#cbcbcb" stroke-width="1" fill="none"/>
<line x1="566.50" y1="312.00" x2="566.50" y2="372.00" stroke="#cbcbcb" stroke-width="1"/>
<line x1="540.00" y1="335.50" x2="594.00" y2="335.50" stroke="#cbcbcb" stroke-width="1"/>
<path d="M407 285.3 H195.1 V838 Q195.1 850.3 207 850.3 H735.7" stroke="#a0a0a0" stroke-width="3.6" fill="none" stroke-linejoin="round" stroke-linecap="butt"/>
<path d="M407 285.3 H195.1 V838 Q195.1 850.3 207 850.3 H735.7" stroke="#fff" stroke-width="2.00" fill="none" stroke-linejoin="round" stroke-linecap="butt"/>
<path d="M199 838 Q199 846.5 207 846.5" stroke="#b0b0b0" stroke-width="0.8" fill="none"/>
<path d="M232.6 674 V309 Q232.6 302.6 239 302.6 H520.6" stroke="#808080" stroke-width="4.6" fill="none" stroke-linejoin="round" stroke-linecap="butt"/>
<path d="M232.6 674 V309 Q232.6 302.6 239 302.6 H520.6" stroke="#fff" stroke-width="2.60" fill="none" stroke-linejoin="round" stroke-linecap="butt"/>
<line x1="520.90" y1="300.40" x2="520.90" y2="304.80" stroke="#7a7a7a" stroke-width="1.2"/>
<path d="M516 304.6 V350.6" stroke="#9a9a9a" stroke-width="3.4" fill="none" stroke-linejoin="round" stroke-linecap="butt"/>
<path d="M516 304.6 V350.6" stroke="#fff" stroke-width="1.60" fill="none" stroke-linejoin="round" stroke-linecap="butt"/>
<path d="M498.4 240 V386 Q498.4 394.3 506 394.3 H515" stroke="#a4a4a4" stroke-width="5.0" fill="none" stroke-linejoin="round" stroke-linecap="butt"/>
<path d="M498.4 240 V386 Q498.4 394.3 506 394.3 H515" stroke="#fff" stroke-width="3.30" fill="none" stroke-linejoin="round" stroke-linecap="butt"/>
<line x1="495.90" y1="240.00" x2="500.90" y2="240.00" stroke="#a4a4a4" stroke-width="1"/>
<path d="M532 394.3 H567.5" stroke="#9a9a9a" stroke-width="3.6" fill="none" stroke-linejoin="round" stroke-linecap="round"/>
<path d="M532 394.3 H567.5" stroke="#fff" stroke-width="1.80" fill="none" stroke-linejoin="round" stroke-linecap="round"/>
<rect x="514.60" y="388.40" width="3.20" height="11.60" rx="0" stroke="#555" stroke-width="0.9" fill="#aaa"/>
<rect x="529.60" y="388.40" width="3.20" height="11.60" rx="0" stroke="#555" stroke-width="0.9" fill="#aaa"/>
<rect x="518.40" y="390.60" width="10.60" height="7.20" rx="0" stroke="#777" stroke-width="0.9" fill="#eee"/>
<ellipse cx="523.7" cy="394.3" rx="3.4" ry="4.6" fill="#555" stroke="#333" stroke-width="0.8"/>
<path d="M425.6 280.6 H435.4 Q439.4 280.6 439.4 284.6 V326.2 H499.4" stroke="#6c6c6c" stroke-width="2.7" fill="none" stroke-linejoin="round"/>
<path d="M425.6 280.6 H435.4 Q439.4 280.6 439.4 284.6 V326.2 H499.4" stroke="#c8c8c8" stroke-width="0.8" fill="none" stroke-linejoin="round"/>
<path d="M425.6 290.6 V339.6 H543" stroke="#6c6c6c" stroke-width="2.7" fill="none" stroke-linejoin="round"/>
<path d="M425.6 290.6 V339.6 H543" stroke="#c8c8c8" stroke-width="0.8" fill="none" stroke-linejoin="round"/>
<circle cx="425.60" cy="285.30" r="5.50" stroke="#8a8a8a" stroke-width="1" fill="#fff"/>
<path d="M420.5 282 Q425.6 279 430.7 282" stroke="#777" stroke-width="1.6" fill="none"/>
<circle cx="408.00" cy="285.50" r="2.10" stroke="#555" stroke-width="1" fill="#666"/>
<line x1="410.00" y1="285.50" x2="420.00" y2="285.50" stroke="#cbcbcb" stroke-width="1"/>
<path d="M462.6 319 H468.6 M465.6 319 V323 M462.8 328.2 L465.6 323 L468.4 328.2 Z" stroke="#222" stroke-width="1.3" fill="#222"/>
<path d="M424.5 339.6 H433 M433 336.4 V342.8" stroke="#222" stroke-width="1.6" fill="none"/>
<path d="M543 350.6 V318 H590 V350.6" stroke="#8e8e8e" stroke-width="1.1" fill="none"/>
<circle cx="566.50" cy="335.60" r="20.20" stroke="#777" stroke-width="1.3" fill="none"/>
<circle cx="566.50" cy="335.60" r="15.60" stroke="#7e7e7e" stroke-width="1.1" fill="none"/>
<path d="M548 317.6 L550.5 315.4 L553.5 317.6 Z M579.5 317.6 L582.5 315.4 L585 317.6 Z" stroke="#222" stroke-width="0.8" fill="#222"/>
<line x1="548.00" y1="317.30" x2="585.00" y2="317.30" stroke="#666" stroke-width="1.2"/>
<path d="M543 350.6 H507.4 V529.4 H521 V536.5 H611.8 V529.4 H625.8 V350.6 H590" stroke="#8e8e8e" stroke-width="1.2" fill="none"/>
<path d="M510.8 354.4 H622.3 V525 H510.8 Z" stroke="#cfcfcf" stroke-width="1" fill="none" stroke-dasharray="6 2.2"/>
<rect x="548.30" y="367.50" width="36.20" height="144.60" rx="2.5" stroke="#8e8e8e" stroke-width="1.1" fill="none"/>
<rect x="551.3" y="371.8" width="30" height="136.5" stroke="#d2d2d2" stroke-width="1" fill="none" stroke-dasharray="6 2.2"/>
<circle cx="566.30" cy="411.30" r="9.70" stroke="#8e8e8e" stroke-width="1.1" fill="none"/>
<circle cx="566.30" cy="442.60" r="9.70" stroke="#8e8e8e" stroke-width="1.1" fill="none"/>
<rect x="561.20" y="470.20" width="10.20" height="3.40" rx="1" stroke="#888" stroke-width="0.9" fill="none"/>
<rect x="561.20" y="510.80" width="10.20" height="3.40" rx="1" stroke="#888" stroke-width="0.9" fill="#fff"/>
<line x1="566.30" y1="371.00" x2="566.30" y2="400.00" stroke="#cbcbcb" stroke-width="1"/>
<rect x="485.40" y="443.10" width="26.30" height="65.10" rx="0" stroke="#4a4a4a" stroke-width="1.3" fill="none"/>
<path d="M512.5 452.2 H553.7" stroke="#8a8a8a" stroke-width="3.6" fill="none" stroke-linejoin="round" stroke-linecap="round"/>
<path d="M512.5 452.2 H553.7" stroke="#fff" stroke-width="1.80" fill="none" stroke-linejoin="round" stroke-linecap="round"/>
<path d="M493.6 482.3 H558.6" stroke="#8a8a8a" stroke-width="3.6" fill="none" stroke-linejoin="round" stroke-linecap="round"/>
<path d="M493.6 482.3 H558.6" stroke="#fff" stroke-width="1.80" fill="none" stroke-linejoin="round" stroke-linecap="round"/>
<path d="M503.7 485.6 V493" stroke="#8a8a8a" stroke-width="2.6" fill="none" stroke-linejoin="round" stroke-linecap="butt"/>
<path d="M503.7 485.6 V493" stroke="#fff" stroke-width="1.00" fill="none" stroke-linejoin="round" stroke-linecap="butt"/>
<circle cx="503.70" cy="452.10" r="3.40" stroke="#777" stroke-width="1" fill="#fff"/>
<circle cx="503.70" cy="482.20" r="3.40" stroke="#777" stroke-width="1" fill="#fff"/>
<rect x="509.80" y="447.30" width="5.20" height="9.80" rx="1.2" stroke="#333" stroke-width="0.9" fill="#777"/>
<rect x="488.10" y="477.40" width="6.00" height="9.80" rx="2.6" stroke="#333" stroke-width="0.9" fill="#666"/>
<rect x="499.30" y="493.20" width="9.40" height="5.00" rx="2.4" stroke="#333" stroke-width="0.9" fill="#666"/>
<line x1="503.70" y1="497.60" x2="503.70" y2="501.00" stroke="#777" stroke-width="1"/>
<line x1="524.50" y1="538.00" x2="606.50" y2="538.00" stroke="#9a9a9a" stroke-width="1"/>
<rect x="547.80" y="539.80" width="36.80" height="3.40" rx="1.6" stroke="#b0b0b0" stroke-width="1" fill="none"/>
<path d="M555 543.4 V545.2 H578.4 V543.4" stroke="#c0c0c0" stroke-width="0.9" fill="none"/>
<path d="M557.5 545.2 V598.9 M574.3 545.2 V598.9" stroke="#b4b4b4" stroke-width="1.1" fill="none"/>
<line x1="566.00" y1="526.00" x2="566.00" y2="598.00" stroke="#d8d8d8" stroke-width="0.8"/>
<line x1="559.20" y1="600.60" x2="572.90" y2="600.60" stroke="#111" stroke-width="2.2"/>
<rect x="536.50" y="565.50" width="18.20" height="14.50" rx="0" stroke="#b8b8b8" stroke-width="0.8" fill="#d2d2d2"/>
<rect x="536.50" y="580.00" width="7.50" height="4.00" rx="0" stroke="#c0c0c0" stroke-width="0.6" fill="#d2d2d2"/>
<line x1="537.00" y1="568.00" x2="546.00" y2="568.00" stroke="#bdbdbd" stroke-width="0.6"/>
<line x1="537.00" y1="570.50" x2="546.00" y2="570.50" stroke="#bdbdbd" stroke-width="0.6"/>
<line x1="537.00" y1="573.00" x2="546.00" y2="573.00" stroke="#bdbdbd" stroke-width="0.6"/>
<line x1="537.00" y1="575.50" x2="546.00" y2="575.50" stroke="#bdbdbd" stroke-width="0.6"/>
<line x1="537.00" y1="578.00" x2="546.00" y2="578.00" stroke="#bdbdbd" stroke-width="0.6"/>
<rect x="532.70" y="566.50" width="3.80" height="17.00" rx="0" stroke="#d0d0d0" stroke-width="0.9" fill="none"/>
<rect x="546.50" y="569.50" width="7.00" height="6.80" rx="0" stroke="#9a9a9a" stroke-width="0.8" fill="#dedede"/>
<circle cx="550.20" cy="568.70" r="1.10" stroke="#222" stroke-width="0.5" fill="#222"/>
<path d="M543.7 584 V593.7 H557" stroke="#d0d0d0" stroke-width="1" fill="none"/>
<circle cx="557.20" cy="561.40" r="1.10" stroke="#333" stroke-width="0.5" fill="#333"/>
<line x1="557.20" y1="561.00" x2="557.20" y2="580.00" stroke="#c4c4c4" stroke-width="0.8"/>
<path d="M574.6 560.7 H590.8 V590.3 H577 M585.3 590.3 V602" stroke="#cacaca" stroke-width="1" fill="none"/>
<path d="M576.4 547.6 H580.6 M576.4 549.6 H580.6 M576.4 553 H580.6 M576.4 555 H580.6" stroke="#555" stroke-width="1.1" fill="none"/>
<path d="M578.4 557 V560 M577 558 H580" stroke="#999" stroke-width="0.8" fill="none"/>
<circle cx="590.80" cy="548.00" r="3.10" stroke="#8a8a8a" stroke-width="0.9" fill="#fff"/>
<path d="M584 548 H587" stroke="#444" stroke-width="1.6" fill="none"/>
<path d="M584 553.5 H596.5" stroke="#555" stroke-width="1.6" stroke-dasharray="1.6 0.9" fill="none"/>
<path d="M596.5 553.5 L595 559.4" stroke="#777" stroke-width="1.2" fill="none"/>
<path d="M594.6 559.4 V574" stroke="#888" stroke-width="1.8" fill="none"/>
<path d="M593 562.4 H596.4 M593 566 H596.4 M593 569.6 H596.4" stroke="#444" stroke-width="1.1" fill="none"/>
<path d="M593 572 L597.6 577 M597.6 572 L593 577" stroke="#888" stroke-width="1" fill="none"/>
<path d="M597.7 575 H878.7 V712.6" stroke="#a8a8a8" stroke-width="3.8" fill="none" stroke-linejoin="round" stroke-linecap="butt"/>
<path d="M597.7 575 H878.7 V712.6" stroke="#fff" stroke-width="2.20" fill="none" stroke-linejoin="round" stroke-linecap="butt"/>
<rect x="900.30" y="514.30" width="19.90" height="34.10" rx="0" stroke="#7c7c7c" stroke-width="1.1" fill="none"/>
<rect x="898.00" y="548.40" width="22.20" height="56.30" rx="0" stroke="#7c7c7c" stroke-width="1.1" fill="none"/>
<rect x="900.30" y="604.70" width="19.90" height="34.70" rx="0" stroke="#7c7c7c" stroke-width="1.1" fill="none"/>
<text transform="translate(913.5,545.0) rotate(-90)" font-size="7" fill="#444" textLength="26.0" lengthAdjust="spacingAndGlyphs">ШУКПТ</text>
<text transform="translate(914.5,590.0) rotate(-90)" font-size="11" fill="#333" textLength="24.0" lengthAdjust="spacingAndGlyphs">ШУС</text>
<text transform="translate(914.0,633.0) rotate(-90)" font-size="9.5" fill="#444" textLength="21.0" lengthAdjust="spacingAndGlyphs">ШУП</text>
<rect x="209.70" y="638.90" width="13.50" height="13.00" rx="0" stroke="#c2c2c2" stroke-width="1" fill="#ececec"/>
<line x1="211.60" y1="639.40" x2="211.60" y2="651.40" stroke="#c2c2c2" stroke-width="0.7"/>
<line x1="213.40" y1="639.40" x2="213.40" y2="651.40" stroke="#c2c2c2" stroke-width="0.7"/>
<line x1="215.20" y1="639.40" x2="215.20" y2="651.40" stroke="#c2c2c2" stroke-width="0.7"/>
<rect x="217.20" y="642.20" width="5.40" height="6.40" rx="0" stroke="#c2c2c2" stroke-width="0.9" fill="#fff"/>
<rect x="223.20" y="638.20" width="3.60" height="14.40" rx="0" stroke="#c2c2c2" stroke-width="0.9" fill="#ececec"/>
<path d="M226.8 639.9 L230 641.4 V649.4 L226.8 650.9" stroke="#c2c2c2" stroke-width="0.9" fill="none"/>
<path d="M236 645.4 H302" stroke="#c8c8c8" stroke-width="2.8" fill="none" stroke-linejoin="round" stroke-linecap="butt"/>
<path d="M236 645.4 H302" stroke="#fff" stroke-width="1.20" fill="none" stroke-linejoin="round" stroke-linecap="butt"/>
<path d="M256 648 H268 L271 651 H262" stroke="#c4c4c4" stroke-width="1" fill="none"/>
<rect x="209.70" y="664.70" width="13.50" height="13.00" rx="0" stroke="#666" stroke-width="1" fill="#bdbdbd"/>
<line x1="211.60" y1="665.20" x2="211.60" y2="677.20" stroke="#666" stroke-width="0.7"/>
<line x1="213.40" y1="665.20" x2="213.40" y2="677.20" stroke="#666" stroke-width="0.7"/>
<line x1="215.20" y1="665.20" x2="215.20" y2="677.20" stroke="#666" stroke-width="0.7"/>
<rect x="217.20" y="668.00" width="5.40" height="6.40" rx="0" stroke="#666" stroke-width="0.9" fill="#fff"/>
<rect x="223.20" y="664.00" width="3.60" height="14.40" rx="0" stroke="#666" stroke-width="0.9" fill="#bdbdbd"/>
<path d="M226.8 665.7 L230 667.2 V675.2 L226.8 676.7" stroke="#666" stroke-width="0.9" fill="none"/>
<circle cx="236.60" cy="671.20" r="4.20" stroke="#666" stroke-width="1" fill="#fff"/>
<path d="M240.8 671.2 H302" stroke="#777" stroke-width="3.0" fill="none" stroke-linejoin="round" stroke-linecap="butt"/>
<path d="M240.8 671.2 H302" stroke="#fff" stroke-width="1.20" fill="none" stroke-linejoin="round" stroke-linecap="butt"/>
<path d="M256 674 H268 L271 677 H262" stroke="#777" stroke-width="1.1" fill="none"/>
<line x1="300.00" y1="668.00" x2="300.00" y2="674.50" stroke="#666" stroke-width="1.2"/>
<path d="M304 637.4 V693" stroke="#8a8a8a" stroke-width="5.0" fill="none" stroke-linejoin="round" stroke-linecap="butt"/>
<path d="M304 637.4 V693" stroke="#fff" stroke-width="3.00" fill="none" stroke-linejoin="round" stroke-linecap="butt"/>
<line x1="301.50" y1="637.40" x2="306.50" y2="637.40" stroke="#8a8a8a" stroke-width="1"/>
<rect x="297.00" y="692.60" width="14.00" height="2.20" rx="0" stroke="#777" stroke-width="0.9" fill="none"/>
<rect x="298.40" y="695.60" width="11.20" height="1.60" rx="0" stroke="#777" stroke-width="0.9" fill="none"/>
<rect x="297.00" y="698.00" width="14.00" height="2.20" rx="0" stroke="#777" stroke-width="0.9" fill="none"/>
<path d="M304 700.4 V736.6" stroke="#9a9a9a" stroke-width="4.4" fill="none" stroke-linejoin="round" stroke-linecap="butt"/>
<path d="M304 700.4 V736.6" stroke="#fff" stroke-width="2.60" fill="none" stroke-linejoin="round" stroke-linecap="butt"/>
<path d="M309.6 718 V736.6" stroke="#a8a8a8" stroke-width="2.6" fill="none" stroke-linejoin="round" stroke-linecap="butt"/>
<path d="M309.6 718 V736.6" stroke="#fff" stroke-width="1.00" fill="none" stroke-linejoin="round" stroke-linecap="butt"/>
<path d="M306.6 712 L309.6 718 M308 714 L311 711.5" stroke="#555" stroke-width="1.1" fill="none"/>
<rect x="200.60" y="736.60" width="116.90" height="101.20" rx="0" stroke="#8e8e8e" stroke-width="1.2" fill="none"/>
<circle cx="278.50" cy="775.00" r="34.20" stroke="#8e8e8e" stroke-width="1.2" fill="none"/>
<circle cx="307.80" cy="812.90" r="4.60" stroke="#555" stroke-width="1.1" fill="none"/>
<path d="M305 812.9 H310.6 M307.8 810.1 V815.7 M305.8 810.9 L309.8 814.9 M309.8 810.9 L305.8 814.9" stroke="#444" stroke-width="0.9" fill="none"/>
<path d="M305.5 826.4 H633" stroke="#8e8e8e" stroke-width="6.0" fill="none" stroke-linejoin="round" stroke-linecap="round"/>
<path d="M305.5 826.4 H633" stroke="#fff" stroke-width="4.00" fill="none" stroke-linejoin="round" stroke-linecap="round"/>
<line x1="298.00" y1="826.40" x2="305.00" y2="826.40" stroke="#cbcbcb" stroke-width="1"/>
<rect x="383.70" y="806.30" width="82.80" height="39.50" rx="0" stroke="#8e8e8e" stroke-width="1.1" fill="none"/>
<circle cx="403.70" cy="826.10" r="19.70" stroke="#8e8e8e" stroke-width="1.1" fill="none"/>
<circle cx="446.00" cy="826.10" r="19.70" stroke="#8e8e8e" stroke-width="1.1" fill="none"/>
<circle cx="403.70" cy="826.10" r="5.60" stroke="#8a8a8a" stroke-width="1" fill="#fff"/>
<path d="M401 823.5 V828.7 M401 826.1 H404 M406.4 824.2 Q403.6 826.1 406.4 828" stroke="#444" stroke-width="1.1" fill="none"/>
<rect x="425.50" y="822.80" width="4.60" height="6.60" rx="0" stroke="#555" stroke-width="1" fill="#fff"/>
<line x1="427.80" y1="822.80" x2="427.80" y2="829.40" stroke="#555" stroke-width="0.9"/>
<path d="M436 821.5 H452 V830.8 H448.5 L446.5 834 H439.5 L438 830.8 H436 Z" stroke="#7e7e7e" stroke-width="1" fill="#fff"/>
<rect x="318.00" y="822.40" width="4.00" height="8.00" rx="0" stroke="#8e8e8e" stroke-width="0.9" fill="#fff"/>
<rect x="455.00" y="822.40" width="3.50" height="8.00" rx="0" stroke="#8e8e8e" stroke-width="0.9" fill="#fff"/>
<rect x="469.00" y="822.40" width="3.50" height="8.00" rx="0" stroke="#8e8e8e" stroke-width="0.9" fill="#fff"/>
<rect x="480.00" y="822.40" width="3.50" height="8.00" rx="0" stroke="#8e8e8e" stroke-width="0.9" fill="#fff"/>
<rect x="494.00" y="822.40" width="3.00" height="8.00" rx="0" stroke="#8e8e8e" stroke-width="0.9" fill="#fff"/>
<rect x="508.00" y="822.40" width="3.00" height="8.00" rx="0" stroke="#8e8e8e" stroke-width="0.9" fill="#fff"/>
<rect x="524.00" y="822.40" width="3.00" height="8.00" rx="0" stroke="#8e8e8e" stroke-width="0.9" fill="#fff"/>
<rect x="540.00" y="822.40" width="3.00" height="8.00" rx="0" stroke="#8e8e8e" stroke-width="0.9" fill="#fff"/>
<rect x="548.00" y="822.40" width="3.00" height="8.00" rx="0" stroke="#8e8e8e" stroke-width="0.9" fill="#fff"/>
<circle cx="496.50" cy="826.40" r="5.40" stroke="#8e8e8e" stroke-width="1" fill="#fff"/>
<rect x="555.00" y="822.20" width="14.50" height="8.40" rx="0" stroke="#8a8a8a" stroke-width="1" fill="#fff"/>
<rect x="625.00" y="821.80" width="5.00" height="9.20" rx="0" stroke="#8a8a8a" stroke-width="1" fill="#fff"/>
<line x1="462.00" y1="826.40" x2="466.00" y2="826.40" stroke="#aaa" stroke-width="0.8"/>
<line x1="476.00" y1="826.40" x2="480.00" y2="826.40" stroke="#aaa" stroke-width="0.8"/>
<line x1="487.00" y1="826.40" x2="491.00" y2="826.40" stroke="#aaa" stroke-width="0.8"/>
<line x1="515.00" y1="826.40" x2="519.00" y2="826.40" stroke="#aaa" stroke-width="0.8"/>
<line x1="533.00" y1="826.40" x2="537.00" y2="826.40" stroke="#aaa" stroke-width="0.8"/>
<rect x="579.70" y="737.20" width="30.00" height="53.80" rx="2.5" stroke="#7e7e7e" stroke-width="1.2" fill="none"/>
<rect x="583.90" y="741.60" width="21.60" height="45.00" rx="2" stroke="#8c8c8c" stroke-width="1" fill="none"/>
<path d="M580.5 738 L584.3000000000001 742 M608.9000000000001 738 L605.1 742 M580.5 790.2 L584.3000000000001 786.2 M608.9000000000001 790.2 L605.1 786.2" stroke="#8c8c8c" stroke-width="0.9" fill="none"/>
<line x1="594.70" y1="742.00" x2="594.70" y2="786.00" stroke="#d0d0d0" stroke-width="0.8"/>
<line x1="584.20" y1="764.00" x2="605.20" y2="764.00" stroke="#d0d0d0" stroke-width="0.8"/>
<rect x="651.40" y="737.20" width="30.00" height="53.80" rx="2.5" stroke="#7e7e7e" stroke-width="1.2" fill="none"/>
<rect x="655.60" y="741.60" width="21.60" height="45.00" rx="2" stroke="#8c8c8c" stroke-width="1" fill="none"/>
<path d="M652.1999999999999 738 L656.0 742 M680.6 738 L676.8 742 M652.1999999999999 790.2 L656.0 786.2 M680.6 790.2 L676.8 786.2" stroke="#8c8c8c" stroke-width="0.9" fill="none"/>
<line x1="666.40" y1="742.00" x2="666.40" y2="786.00" stroke="#d0d0d0" stroke-width="0.8"/>
<line x1="655.90" y1="764.00" x2="676.90" y2="764.00" stroke="#d0d0d0" stroke-width="0.8"/>
<circle cx="560.00" cy="773.70" r="16.00" stroke="#8a8a8a" stroke-width="1" fill="none"/>
<rect x="550.60" y="764.00" width="15.00" height="13.40" rx="1" stroke="#777" stroke-width="1.1" fill="#fff"/>
<line x1="550.60" y1="766.60" x2="565.60" y2="766.60" stroke="#777" stroke-width="0.9"/>
<rect x="565.60" y="773.40" width="2.60" height="5.60" rx="0" stroke="#555" stroke-width="0.8" fill="#888"/>
<line x1="544.00" y1="773.70" x2="576.00" y2="773.70" stroke="#d0d0d0" stroke-width="0.7"/>
<rect x="555.20" y="777.40" width="6.00" height="5.40" rx="0" stroke="#888" stroke-width="0.9" fill="#fff"/>
<circle cx="631.60" cy="773.70" r="16.00" stroke="#8a8a8a" stroke-width="1" fill="none"/>
<rect x="622.20" y="764.00" width="15.00" height="13.40" rx="1" stroke="#777" stroke-width="1.1" fill="#fff"/>
<line x1="622.20" y1="766.60" x2="637.20" y2="766.60" stroke="#777" stroke-width="0.9"/>
<rect x="637.20" y="773.40" width="2.60" height="5.60" rx="0" stroke="#555" stroke-width="0.8" fill="#888"/>
<line x1="615.60" y1="773.70" x2="647.60" y2="773.70" stroke="#d0d0d0" stroke-width="0.7"/>
<rect x="626.80" y="777.40" width="6.00" height="5.40" rx="0" stroke="#888" stroke-width="0.9" fill="#fff"/>
<path d="M559.9 782.8 V802" stroke="#8a8a8a" stroke-width="5.6" fill="none" stroke-linejoin="round" stroke-linecap="butt"/>
<path d="M559.9 782.8 V802" stroke="#fff" stroke-width="3.60" fill="none" stroke-linejoin="round" stroke-linecap="butt"/>
<path d="M631.3 782.8 V802" stroke="#8a8a8a" stroke-width="7.0" fill="none" stroke-linejoin="round" stroke-linecap="butt"/>
<path d="M631.3 782.8 V802" stroke="#fff" stroke-width="5.00" fill="none" stroke-linejoin="round" stroke-linecap="butt"/>
<path d="M556 804.5 H713.7" stroke="#8a8a8a" stroke-width="6.0" fill="none" stroke-linejoin="round" stroke-linecap="butt"/>
<path d="M556 804.5 H713.7" stroke="#fff" stroke-width="4.00" fill="none" stroke-linejoin="round" stroke-linecap="butt"/>
<path d="M561.9 807.5 V823.5" stroke="#8a8a8a" stroke-width="3.8" fill="none" stroke-linejoin="round" stroke-linecap="butt"/>
<path d="M561.9 807.5 V823.5" stroke="#fff" stroke-width="2.00" fill="none" stroke-linejoin="round" stroke-linecap="butt"/>
<path d="M633 807.5 V829.4" stroke="#8a8a8a" stroke-width="4.2" fill="none" stroke-linejoin="round" stroke-linecap="butt"/>
<path d="M633 807.5 V829.4" stroke="#fff" stroke-width="2.40" fill="none" stroke-linejoin="round" stroke-linecap="butt"/>
<rect x="622.50" y="800.60" width="15.50" height="7.80" rx="0" stroke="#8a8a8a" stroke-width="1" fill="#fff"/>
<rect x="555.00" y="800.80" width="3.60" height="7.40" rx="0" stroke="#8a8a8a" stroke-width="1" fill="#fff"/>
<rect x="640.50" y="801.40" width="13.50" height="6.20" rx="0" stroke="#9a9a9a" stroke-width="1" fill="#fff"/>
<rect x="658.50" y="801.00" width="14.00" height="7.00" rx="0" stroke="#8a8a8a" stroke-width="1" fill="#fff"/>
<path d="M661.5 808 L665 812 L668.5 808" stroke="#8a8a8a" stroke-width="1" fill="none"/>
<path d="M665.6 811 V830" stroke="#8e8e8e" stroke-width="4.2" fill="none" stroke-linejoin="round" stroke-linecap="butt"/>
<path d="M665.6 811 V830" stroke="#fff" stroke-width="2.40" fill="none" stroke-linejoin="round" stroke-linecap="butt"/>
<path d="M664 832.2 H711" stroke="#8e8e8e" stroke-width="5.6" fill="none" stroke-linejoin="round" stroke-linecap="round"/>
<path d="M664 832.2 H711" stroke="#fff" stroke-width="3.80" fill="none" stroke-linejoin="round" stroke-linecap="round"/>
<path d="M711 834 V737 Q711 733.6 714.5 733.6 H733" stroke="#8e8e8e" stroke-width="7.0" fill="none" stroke-linejoin="round" stroke-linecap="butt"/>
<path d="M711 834 V737 Q711 733.6 714.5 733.6 H733" stroke="#fff" stroke-width="5.00" fill="none" stroke-linejoin="round" stroke-linecap="butt"/>
<rect x="707.40" y="811.50" width="7.20" height="4.50" rx="0" stroke="#8e8e8e" stroke-width="0.9" fill="#fff"/>
<rect x="662.40" y="816.00" width="5.20" height="9.00" rx="0" stroke="#999" stroke-width="0.9" fill="#fff"/>
<circle cx="688.30" cy="804.00" r="4.90" stroke="#8a8a8a" stroke-width="1" fill="#fff"/>
<circle cx="688.30" cy="832.20" r="4.90" stroke="#8a8a8a" stroke-width="1" fill="#fff"/>
<path d="M680 803.8 H684 M693 803.8 H697 M680 832.2 H684 M693 832.2 H697" stroke="#777" stroke-width="2.2" fill="none"/>
<path d="M704 800.6 L709.4 803.8 L704 807 Z" stroke="#8a8a8a" stroke-width="1" fill="#fff"/>
<rect x="705.00" y="768.70" width="10.60" height="14.80" rx="0" stroke="#8a8a8a" stroke-width="1" fill="#fff"/>
<rect x="702.50" y="772.00" width="2.60" height="7.00" rx="0" stroke="#8a8a8a" stroke-width="0.9" fill="#fff"/>
<rect x="707.20" y="756.70" width="7.60" height="5.40" rx="0" stroke="#666" stroke-width="1" fill="#fff"/>
<line x1="711.00" y1="756.70" x2="711.00" y2="762.10" stroke="#555" stroke-width="1"/>
<path d="M719.4 762 Q719.4 754.2 727 754 H744.4 Q752 754.2 752 762 V792 Q752 799.8 744.4 800 H727 Q719.4 799.8 719.4 792 Z" stroke="#8a8a8a" stroke-width="1.1" fill="none"/>
<line x1="719.40" y1="760.40" x2="752.00" y2="760.40" stroke="#aaa" stroke-width="0.9"/>
<path d="M735.6 731 V883.4" stroke="#8a8a8a" stroke-width="6.0" fill="none" stroke-linejoin="round" stroke-linecap="butt"/>
<path d="M735.6 731 V883.4" stroke="#fff" stroke-width="4.00" fill="none" stroke-linejoin="round" stroke-linecap="butt"/>
<line x1="732.60" y1="883.60" x2="738.60" y2="883.60" stroke="#8a8a8a" stroke-width="1"/>
<rect x="728.20" y="821.20" width="14.80" height="6.60" rx="0" stroke="#666" stroke-width="1" fill="#ddd"/>
<line x1="728.20" y1="824.50" x2="743.00" y2="824.50" stroke="#666" stroke-width="0.9"/>
<path d="M727 771 H744 M729 775 V796 M742.5 775 V796 M727.5 781 H744 M729 788 H743 M731 796 H741 M735.7 796 V808" stroke="#666" stroke-width="1.4" fill="none"/>
<rect x="729.60" y="772.00" width="12.40" height="8.00" rx="0" stroke="#555" stroke-width="1" fill="#ccc"/>
<rect x="723.60" y="789.00" width="5.00" height="11.00" rx="2" stroke="#777" stroke-width="1" fill="#fff"/>
<circle cx="735.80" cy="769.00" r="2.40" stroke="#555" stroke-width="1" fill="#fff"/>
<circle cx="850.60" cy="817.20" r="38.00" stroke="#8a8a8a" stroke-width="1.2" fill="none"/>
<circle cx="851.50" cy="818.40" r="30.60" stroke="#8a8a8a" stroke-width="1.1" fill="none"/>
<circle cx="850.6" cy="817.2" r="26" stroke="#d0d0d0" stroke-width="1" fill="none" stroke-dasharray="20 14"/>
<circle cx="836.60" cy="802.80" r="4.60" stroke="#b0b0b0" stroke-width="1" fill="none"/>
<line x1="812.00" y1="817.20" x2="838.00" y2="817.20" stroke="#cbcbcb" stroke-width="1"/>
<line x1="850.60" y1="779.00" x2="850.60" y2="858.00" stroke="#cbcbcb" stroke-width="1"/>
<circle cx="850.60" cy="817.20" r="3.30" stroke="#444" stroke-width="1.4" fill="#777"/>
<path d="M853.5 817.2 H860 Q878 816 888 798 Q894 786 893.5 774 Q893 767 883.5 767" stroke="#8a8a8a" stroke-width="3.6" fill="none" stroke-linejoin="round" stroke-linecap="butt"/>
<path d="M853.5 817.2 H860 Q878 816 888 798 Q894 786 893.5 774 Q893 767 883.5 767" stroke="#fff" stroke-width="1.80" fill="none" stroke-linejoin="round" stroke-linecap="butt"/>
<circle cx="878.80" cy="766.80" r="5.00" stroke="#8a8a8a" stroke-width="1" fill="#fff"/>
<path d="M878.8 761.8 L878.8 748" stroke="#8a8a8a" stroke-width="2.6" fill="none" stroke-linejoin="round" stroke-linecap="butt"/>
<path d="M878.8 761.8 L878.8 748" stroke="#fff" stroke-width="1.00" fill="none" stroke-linejoin="round" stroke-linecap="butt"/>
<rect x="875.40" y="736.00" width="7.00" height="12.00" rx="2" stroke="#666" stroke-width="1" fill="#ddd"/>
<line x1="875.00" y1="742.00" x2="882.80" y2="742.00" stroke="#555" stroke-width="1.2"/>
<path d="M878.8 726.5 V736" stroke="#8a8a8a" stroke-width="2.6" fill="none" stroke-linejoin="round" stroke-linecap="butt"/>
<path d="M878.8 726.5 V736" stroke="#fff" stroke-width="1.00" fill="none" stroke-linejoin="round" stroke-linecap="butt"/>
<rect x="870.60" y="712.60" width="16.60" height="13.80" rx="4.5" stroke="#8a8a8a" stroke-width="1.1" fill="#fff"/>
<path d="M850.3 850 V892" stroke="#8a8a8a" stroke-width="5.4" fill="none" stroke-linejoin="round" stroke-linecap="butt"/>
<path d="M850.3 850 V892" stroke="#fff" stroke-width="3.40" fill="none" stroke-linejoin="round" stroke-linecap="butt"/>
<circle cx="850.30" cy="892.40" r="2.70" stroke="#777" stroke-width="1" fill="#fff"/>
<rect x="843.80" y="882.80" width="13.20" height="2.40" rx="0" stroke="#666" stroke-width="0.9" fill="#bbb"/>
<path d="M844.5 851 Q844 845.5 850.3 845.5 Q856.6 845.5 856 851" stroke="#8a8a8a" stroke-width="1" fill="#fff"/>
<path d="M843.5 848 L846 850.5 M857 848 L854.6 850.5 M845 855.5 L847 853.5 M855.6 855.5 L853.6 853.5" stroke="#555" stroke-width="1.2" fill="none"/>
<path d="M871.8 844 V883" stroke="#8a8a8a" stroke-width="4.8" fill="none" stroke-linejoin="round" stroke-linecap="butt"/>
<path d="M871.8 844 V883" stroke="#fff" stroke-width="3.00" fill="none" stroke-linejoin="round" stroke-linecap="butt"/>
<rect x="867.20" y="882.60" width="9.40" height="2.00" rx="0" stroke="#666" stroke-width="0.9" fill="#bbb"/>
<path d="M867.5 843 Q867.5 838.5 871.8 838.5 Q876 838.5 876 843" stroke="#8a8a8a" stroke-width="1" fill="#fff"/>
<path d="M866.6 840.5 L869 842.5 M877 840.5 L874.6 842.5" stroke="#555" stroke-width="1.2" fill="none"/>
</g>
<g id="labels">
<text x="593.8" y="220.0" font-size="19" text-anchor="start" fill="#111" textLength="26.2" lengthAdjust="spacingAndGlyphs">К 8</text>
<line x1="591.30" y1="224.30" x2="620.00" y2="224.30" stroke="#c8c8c8" stroke-width="1"/>
<line x1="591.30" y1="224.30" x2="581.00" y2="316.00" stroke="#c8c8c8" stroke-width="1"/>
<text x="351.3" y="341.3" font-size="19" text-anchor="start" fill="#111" textLength="25.0" lengthAdjust="spacingAndGlyphs">К 6</text>
<line x1="350.00" y1="344.60" x2="382.50" y2="344.60" stroke="#c8c8c8" stroke-width="1"/>
<line x1="382.50" y1="344.60" x2="420.50" y2="289.50" stroke="#c8c8c8" stroke-width="1"/>
<text x="417.5" y="401.3" font-size="19" text-anchor="start" fill="#111" textLength="38.8" lengthAdjust="spacingAndGlyphs">К 1.2</text>
<line x1="417.00" y1="405.20" x2="457.00" y2="405.20" stroke="#c8c8c8" stroke-width="1"/>
<line x1="457.00" y1="405.20" x2="556.50" y2="410.00" stroke="#c8c8c8" stroke-width="1"/>
<line x1="457.00" y1="405.20" x2="573.40" y2="441.90" stroke="#c8c8c8" stroke-width="1"/>
<text x="338.8" y="421.3" font-size="19" text-anchor="start" fill="#111" textLength="37.5" lengthAdjust="spacingAndGlyphs">К 1.5</text>
<line x1="338.00" y1="425.20" x2="377.00" y2="425.20" stroke="#c8c8c8" stroke-width="1"/>
<line x1="377.00" y1="425.20" x2="501.00" y2="451.00" stroke="#c8c8c8" stroke-width="1"/>
<text x="339.5" y="506.8" font-size="19" text-anchor="start" fill="#111" textLength="36.8" lengthAdjust="spacingAndGlyphs">К 1.6</text>
<line x1="339.00" y1="510.80" x2="377.00" y2="510.80" stroke="#c8c8c8" stroke-width="1"/>
<line x1="377.00" y1="510.80" x2="486.00" y2="482.50" stroke="#c8c8c8" stroke-width="1"/>
<line x1="377.00" y1="510.80" x2="501.00" y2="496.00" stroke="#c8c8c8" stroke-width="1"/>
<text x="705.0" y="452.5" font-size="19" text-anchor="start" fill="#111" textLength="37.5" lengthAdjust="spacingAndGlyphs">К 1.4</text>
<line x1="704.00" y1="456.80" x2="746.00" y2="456.80" stroke="#c8c8c8" stroke-width="1"/>
<line x1="704.00" y1="456.80" x2="571.50" y2="471.80" stroke="#c8c8c8" stroke-width="1"/>
<text x="635.3" y="557.2" font-size="19" text-anchor="start" fill="#111" textLength="37.5" lengthAdjust="spacingAndGlyphs">К 1.4</text>
<line x1="631.50" y1="561.50" x2="675.60" y2="561.50" stroke="#c8c8c8" stroke-width="1"/>
<line x1="631.50" y1="561.50" x2="571.50" y2="515.50" stroke="#c8c8c8" stroke-width="1"/>
<text x="718.4" y="550.9" font-size="19" text-anchor="start" fill="#111" textLength="23.1" lengthAdjust="spacingAndGlyphs">К 1</text>
<line x1="715.60" y1="554.00" x2="742.00" y2="554.00" stroke="#c8c8c8" stroke-width="1"/>
<line x1="715.60" y1="554.00" x2="626.50" y2="495.00" stroke="#c8c8c8" stroke-width="1"/>
<text x="480.8" y="607.4" font-size="19" text-anchor="start" fill="#111" textLength="36.7" lengthAdjust="spacingAndGlyphs">К 1.1</text>
<line x1="480.00" y1="610.40" x2="519.00" y2="610.40" stroke="#c8c8c8" stroke-width="1"/>
<line x1="519.00" y1="610.40" x2="553.30" y2="588.30" stroke="#c8c8c8" stroke-width="1"/>
<text x="843.5" y="540.0" font-size="19" text-anchor="start" fill="#111" textLength="25.0" lengthAdjust="spacingAndGlyphs">К 2</text>
<line x1="843.00" y1="543.40" x2="874.00" y2="543.40" stroke="#c8c8c8" stroke-width="1"/>
<line x1="874.00" y1="543.40" x2="901.00" y2="536.00" stroke="#c8c8c8" stroke-width="1"/>
<text x="282.8" y="566.6" font-size="19" text-anchor="start" fill="#111" textLength="26.2" lengthAdjust="spacingAndGlyphs">К 3</text>
<line x1="280.00" y1="571.00" x2="310.00" y2="571.00" stroke="#c8c8c8" stroke-width="1"/>
<line x1="280.00" y1="571.00" x2="233.50" y2="647.00" stroke="#c8c8c8" stroke-width="1"/>
<line x1="280.00" y1="571.00" x2="240.50" y2="668.00" stroke="#c8c8c8" stroke-width="1"/>
<text x="255.2" y="719.0" font-size="19" text-anchor="start" fill="#111" textLength="25.3" lengthAdjust="spacingAndGlyphs">К 5</text>
<line x1="253.00" y1="723.50" x2="282.00" y2="723.50" stroke="#c8c8c8" stroke-width="1"/>
<line x1="253.00" y1="723.50" x2="231.20" y2="761.00" stroke="#c8c8c8" stroke-width="1"/>
<text x="694.2" y="666.6" font-size="19" text-anchor="start" fill="#111" textLength="26.6" lengthAdjust="spacingAndGlyphs">К 4</text>
<line x1="692.50" y1="670.20" x2="723.30" y2="670.20" stroke="#c8c8c8" stroke-width="1"/>
<line x1="692.50" y1="670.20" x2="646.70" y2="718.30" stroke="#c8c8c8" stroke-width="1"/>
<text x="797.2" y="710.0" font-size="19" text-anchor="start" fill="#111" textLength="26.8" lengthAdjust="spacingAndGlyphs">К 7</text>
<line x1="797.00" y1="713.60" x2="827.30" y2="713.60" stroke="#c8c8c8" stroke-width="1"/>
<line x1="827.30" y1="713.60" x2="860.00" y2="804.50" stroke="#c8c8c8" stroke-width="1"/>
<text x="296.0" y="611.5" font-size="17" text-anchor="start" fill="#111" textLength="54.3" lengthAdjust="spacingAndGlyphs">Резерв</text>
<line x1="287.50" y1="616.20" x2="356.00" y2="616.20" stroke="#c8c8c8" stroke-width="1"/>
<line x1="287.50" y1="616.20" x2="245.30" y2="648.00" stroke="#c8c8c8" stroke-width="1"/>
<text x="318.0" y="372.0" font-size="18.5" text-anchor="start" fill="#111" textLength="67.0" lengthAdjust="spacingAndGlyphs">min1500</text>
<text x="328.8" y="464.3" font-size="18.5" text-anchor="start" fill="#111" textLength="59.2" lengthAdjust="spacingAndGlyphs">min700</text>
<text x="742.0" y="481.3" font-size="18.5" text-anchor="start" fill="#111" textLength="60.0" lengthAdjust="spacingAndGlyphs">min700</text>
<text transform="translate(776.0,423.8) rotate(-90)" font-size="18.5" fill="#111" textLength="65.8" lengthAdjust="spacingAndGlyphs">min1000</text>
<text transform="translate(604.2,704.2) rotate(-90)" font-size="18.5" fill="#111" textLength="66.7" lengthAdjust="spacingAndGlyphs">min1500</text>
<text transform="translate(467.5,729.2) rotate(-90)" font-size="18.5" fill="#111" textLength="69.2" lengthAdjust="spacingAndGlyphs">min3000</text>
</g>
</g>
<rect x="0" y="0" width="1920" height="1280" fill="url(#wm)"/>
</svg></body></html>
